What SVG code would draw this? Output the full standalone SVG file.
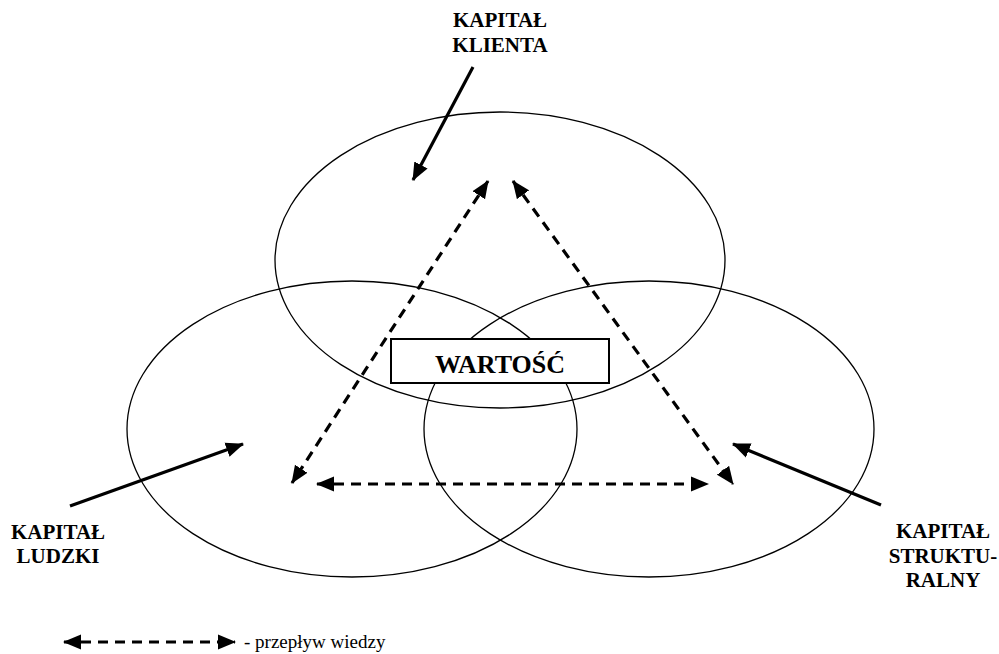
<svg xmlns="http://www.w3.org/2000/svg" width="999" height="654" viewBox="0 0 999 654">
<style>
.ell{fill:none;stroke:#000;stroke-width:1.3}
.lbl{font-family:"Liberation Serif","Times New Roman",serif;font-weight:bold;font-size:21px;fill:#000;text-anchor:middle}
.solid{stroke:#000;stroke-width:3.2;fill:none}
.dash{stroke:#000;stroke-width:3.2;fill:none;stroke-dasharray:10 7}
</style>
<defs>
<marker id="ah" markerUnits="userSpaceOnUse" markerWidth="18" markerHeight="16" refX="17" refY="7.5" orient="auto-start-reverse" viewBox="0 0 18 15">
<path d="M0,0 L18,7.5 L0,15 z" fill="#000"/>
</marker>
</defs>
<rect width="999" height="654" fill="#fff"/>
<g id="node-klienta">
<ellipse class="ell" cx="500" cy="260" rx="225" ry="148"/>
</g>
<g id="node-ludzki">
<ellipse class="ell" cx="352" cy="429" rx="225" ry="148"/>
</g>
<g id="node-strukturalny">
<ellipse class="ell" cx="649" cy="429" rx="225" ry="148"/>
</g>
<g id="node-wartosc">
<rect x="391" y="339" width="218" height="44" fill="#fff" stroke="#000" stroke-width="2"/>
<text x="500" y="373" class="lbl" style="font-size:26px">WARTOŚĆ</text>
</g>
<g id="label-klienta">
<text x="500" y="27" class="lbl">KAPITAŁ</text>
<text x="500" y="52" class="lbl">KLIENTA</text>
</g>
<g id="label-ludzki">
<text x="58" y="539" class="lbl">KAPITAŁ</text>
<text x="58" y="563" class="lbl">LUDZKI</text>
</g>
<g id="label-strukturalny">
<text x="943" y="538" class="lbl">KAPITAŁ</text>
<text x="943" y="563" class="lbl">STRUKTU-</text>
<text x="943" y="587" class="lbl">RALNY</text>
</g>
<g id="connectors">
<line class="solid" x1="473" y1="67" x2="413" y2="180" marker-end="url(#ah)"/>
<line class="solid" x1="70" y1="506" x2="243" y2="444" marker-end="url(#ah)"/>
<line class="solid" x1="881" y1="505" x2="733" y2="444" marker-end="url(#ah)"/>
<line class="dash" x1="488" y1="181" x2="292" y2="483" marker-start="url(#ah)" marker-end="url(#ah)"/>
<line class="dash" x1="513" y1="181" x2="733" y2="484" marker-start="url(#ah)" marker-end="url(#ah)"/>
<line class="dash" x1="317" y1="484" x2="708" y2="484" marker-start="url(#ah)" marker-end="url(#ah)"/>
</g>
<g id="legend">
<line class="dash" x1="64" y1="642" x2="235" y2="642" marker-start="url(#ah)" marker-end="url(#ah)"/>
<text x="244" y="648" style="font-family:'Liberation Serif','Times New Roman',serif;font-size:19px;fill:#000">- przepływ wiedzy</text>
</g>
</svg>
